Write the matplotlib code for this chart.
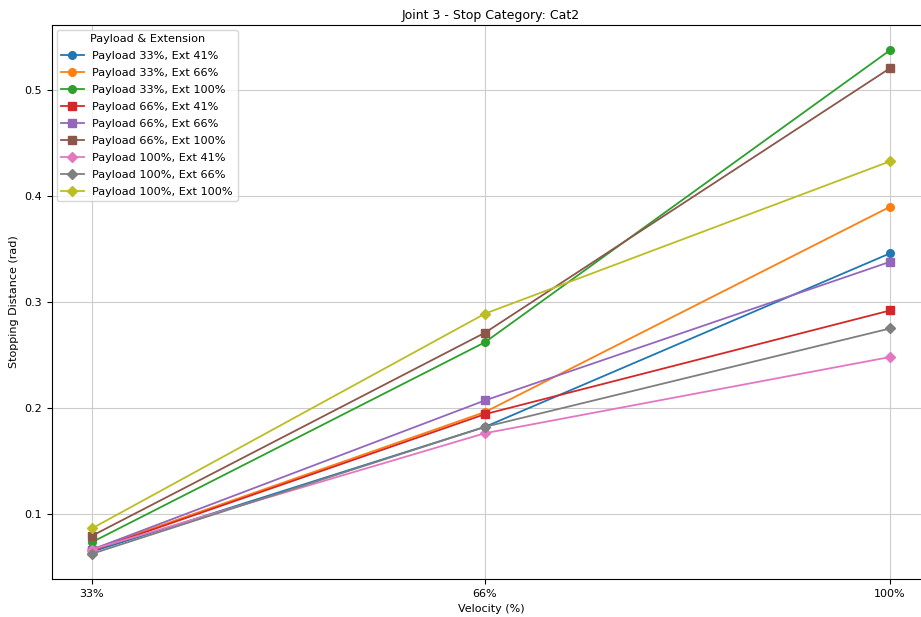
import matplotlib
matplotlib.use("Agg")
import matplotlib.pyplot as plt

velocity = [33, 66, 100]
tick_labels = ["33%", "66%", "100%"]

series_labels = [
    "Payload 33%, Ext 41%",
    "Payload 33%, Ext 66%",
    "Payload 33%, Ext 100%",
    "Payload 66%, Ext 41%",
    "Payload 66%, Ext 66%",
    "Payload 66%, Ext 100%",
    "Payload 100%, Ext 41%",
    "Payload 100%, Ext 66%",
    "Payload 100%, Ext 100%",
]
p33_e41 = [0.064, 0.182, 0.346]
p33_e66 = [0.066, 0.196, 0.390]
p33_e100 = [0.073, 0.262, 0.538]
p66_e41 = [0.065, 0.194, 0.292]
p66_e66 = [0.066, 0.207, 0.338]
p66_e100 = [0.079, 0.271, 0.521]
p100_e41 = [0.066, 0.176, 0.248]
p100_e66 = [0.062, 0.182, 0.275]
p100_e100 = [0.086, 0.289, 0.433]
series_values = [p33_e41, p33_e66, p33_e100, p66_e41, p66_e66, p66_e100,
                 p100_e41, p100_e66, p100_e100]
markers = ["o", "o", "o", "s", "s", "s", "D", "D", "D"]

fig = plt.figure(figsize=(9.21, 6.17), dpi=100)
ax = fig.add_axes([52/921, 1 - 579/617, (930 - 52)/921, (579 - 25)/617])

for lab, vals, m in zip(series_labels, series_values, markers):
    ax.plot(velocity, vals, marker=m, label=lab, markersize=5 if m == "D" else 5.5, linewidth=1.3)

ax.set_xticks(velocity)
ax.set_xticklabels(tick_labels, fontsize=8)
ax.tick_params(axis="y", labelsize=8)
ax.set_xlabel("Velocity (%)", fontsize=8)
ax.set_ylabel("Stopping Distance (rad)", fontsize=8)
ax.set_title("Joint 3 - Stop Category: Cat2", fontsize=9, pad=4)
ax.grid(True, color="#cccccc", linewidth=0.8)
ax.legend(title="Payload & Extension", fontsize=8.1, title_fontsize=8.1,
          loc="upper left", borderaxespad=0.4, labelspacing=0.62)
for s in ax.spines.values():
    s.set_linewidth(0.8)
ax.spines["right"].set_visible(False)

fig.savefig("out.png", dpi=100)
